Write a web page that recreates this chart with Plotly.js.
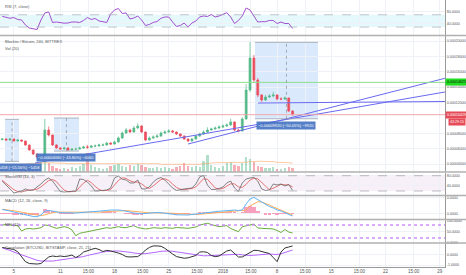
<!DOCTYPE html>
<html><head><meta charset="utf-8">
<script src="https://cdn.plot.ly/plotly-3.0.1.min.js"></script>
<style>html,body{margin:0;padding:0;background:#fff;}#chart{width:466px;height:275px;}</style>
</head><body><div id="chart"></div>
<script>
// ---- DATA (12-hour samples starting 2017-12-03 12:00; prices in satoshi = 1e-8 BTC) ----
const START = Date.UTC(2017, 11, 3, 12);
const STEP_HOURS = 12;

const open  = [7200,7273,7143,7273,7013,7143,7013,6494,5844,5325,4935,5065,8442,7792,6494,6104,5974,6104,5844,5974,5974,6104,6234,6200,6364,6364,6494,6494,6753,6623,6883,7403,8052,8442,8182,8701,8961,8182,7143,7403,7532,7662,8052,8182,8312,8182,7922,7662,7273,7013,7273,7662,7922,8182,8442,8571,8701,8831,8961,9091,9481,8442,8312,9870,13636,17792,14935,12987,12338,12727,12857,12987,12468,12468,12597,10909];
const close = [7273,7143,7273,7013,7143,7013,6494,5844,5325,4935,5065,8442,7792,6494,6104,5974,6104,5844,5974,5974,6104,6234,6200,6364,6364,6494,6494,6753,6623,6883,7403,8052,8442,8182,8701,8961,8182,7143,7403,7532,7662,8052,8182,8312,8182,7922,7662,7273,7013,7273,7662,7922,8182,8442,8571,8701,8831,8961,9091,9481,8442,8312,9870,13636,17792,14935,12987,12338,12727,12857,12987,12468,12468,12597,10909,10429];
const high  = [7400,7350,7400,7320,7250,7200,7050,6550,5900,5400,5300,9870,8900,7850,6600,6250,6250,6200,6100,6150,6300,6400,6500,6500,6550,6650,6700,6900,6850,7050,7600,8250,8700,8600,8950,9300,9050,8250,7600,7750,7900,8250,8400,8550,8450,8250,8000,7750,7350,7400,7800,8100,8400,8800,8750,8900,9050,9150,9300,9900,9550,8600,10100,14400,19870,18200,15200,13100,13000,13100,13400,13100,12700,12800,12650,11000];
const low   = [7100,7050,7080,6950,6950,6900,6400,5750,5200,4800,4820,5000,7600,6350,6000,5900,5900,5750,5800,5850,5900,6000,6000,6150,6250,6300,6350,6400,6500,6550,6800,7300,7950,8050,8100,8600,8050,7000,7050,7300,7450,7550,7950,8100,8050,7800,7550,7150,6900,6950,7200,7550,7850,8100,8350,8500,8600,8700,8850,9000,8300,8150,8250,9800,13400,14600,12700,12100,12200,12600,12700,12300,12300,12350,10750,10300];
const volume = [15,20,15,25,20,40,30,25,35,30,50,70,45,30,20,15,20,15,25,20,30,40,95,35,25,20,15,20,30,35,40,30,25,35,30,40,35,25,20,20,25,20,25,20,15,25,30,45,30,25,30,25,55,85,35,25,20,30,45,50,35,30,45,75,65,50,30,25,20,20,25,15,15,20,25,20];
const volumeMA = [35,35,35,35,35,35,37,40,40,40,42,45,45,45,45,42,42,40,40,40,40,40,42,42,42,42,42,40,40,40,40,42,42,42,42,42,42,42,40,40,40,37,37,37,35,35,37,37,37,37,37,37,40,42,45,45,45,45,45,45,45,45,45,47,50,52,52,52,52,50,50,47,47,45,45,42];
const rsi = [65,63,58.5,61,54.6,53,36.7,27,23.7,22,53,75.8,79,44.9,46.5,43.3,42.6,43.3,46.5,46.5,44.9,51.4,61,54.6,57.9,49.8,46.5,44.9,72.5,85.5,90.4,74.1,75.8,56.3,59.5,66,53,35.1,38.4,44.9,48.1,58.5,62.8,62.8,46.5,31.9,35.1,43.3,30.2,43.3,49.8,62.8,66,64.4,70.9,62.8,66,72.5,76.7,62.8,41.6,51.4,66,92,85.5,66,46.5,47.5,47.5,51.4,51.4,41.6,46.5,41.6,41.6,25.4];
const stochK = [59,43.5,28,12,16,20,28,22,24,35.7,47.4,63,71,59,39.6,18,16,17,18,20,67,65,55,39.6,20,20,22,24,31.8,71,78.8,65.9,63,51.4,51.4,63,28,28,35.7,55,67,73,63,47.4,31.8,22,26,28,29.8,31.8,47.4,75,80.8,43.5,26,26,29.8,35.7,51.4,59,31.8,18,51.4,67,71,73,59,28,22,24,47.4,43.5,47.4,39.6,45.5,22];
const stochD = [62,50,38,25,18,16,21,24,24,27,36,49,61,65,57,39,24,17,17,18,35,51,62,53,38,26,21,22,26,42,61,72,69,60,55,55,48,36,30,40,52,65,68,61,47,34,27,25,28,30,36,51,68,66,50,32,27,30,39,48,48,36,34,46,63,70,68,53,36,25,31,38,46,44,44,36];
// MACD values in satoshi
const macd = [237,206,144,81,19,-44,-106,-169,-200,-212,-106,144,175,144,81,50,37,19,19,19,37,50,81,81,94,112,144,175,206,219,206,175,144,81,19,-12,-25,-12,19,37,50,37,19,-25,-62,-94,-106,-106,-106,-75,-44,19,50,81,100,112,131,144,175,206,206,175,206,581,894,1000,862,706,550,425,331,206,144,50,-44,-169];
const signal = [250,235,205,160,115,70,20,-40,-90,-135,-150,-100,-20,40,70,70,60,50,40,30,30,35,45,55,65,75,90,110,130,150,170,175,170,150,120,90,60,40,30,28,30,32,30,20,5,-15,-35,-55,-70,-78,-75,-60,-40,-20,0,20,40,60,80,100,120,135,145,200,456,581,725,706,625,519,394,300,206,81,-12,-106];
const histogram = [-20,-30,-60,-80,-95,-110,-125,-130,-110,-80,40,240,190,160,20,-20,-30,-30,-20,-10,5,15,35,25,30,35,55,65,75,70,35,0,-25,-70,-100,-100,-85,-50,-10,10,20,5,-10,-55,-65,-80,-70,-50,-35,-5,30,80,90,100,100,90,90,85,95,105,85,40,60,380,440,420,140,0,-75,-95,-60,-95,-60,-30,-30,-60];
const mfi = [80,82.4,80,77.8,76.9,52.3,61.6,63.9,61.6,63.9,67.6,80,77.8,70.8,64.8,68.5,72.2,68.5,56.9,30.6,41.7,45.4,49.1,54.6,58.3,61.6,63.9,67.6,64.8,68.5,72.2,68.5,67.6,73.1,76.9,68.5,64.8,61.6,63.9,67.6,66.2,64.8,67.6,66.2,64.8,68.5,67.6,64.8,64.8,67.6,70.8,80,84.7,88,82.4,77.8,72.2,75.5,76.9,63.9,54.6,49.1,72.2,77.8,80,84.7,66.2,64.8,64.8,64.8,61.6,54.6,45.4,59.3,47.7,43.1];
const corr = [0.64,0.59,0.54,0.45,0.24,-0.22,-0.69,-0.86,-0.91,-0.91,-0.86,-0.53,-0.25,-0.16,-0.21,-0.16,-0.21,-0.16,-0.07,-0.30,-0.11,0.21,0.36,0.45,0.56,0.45,0.26,0.37,0.31,0.24,0.12,-0.02,-0.22,-0.25,-0.25,-0.21,0.03,0.40,0.64,0.78,0.78,0.75,0.56,0.26,0.03,-0.21,-0.30,-0.37,-0.33,-0.25,-0.11,0.21,0.24,0.17,-0.11,-0.22,-0.16,0.07,0.31,0.40,0.12,-0.25,-0.25,-0.02,0.17,0.37,0.36,0.28,0.19,0.07,-0.30,-0.69,0.21,0.59,0.68,0.78];
const corrMA = [0.59,0.50,0.36,0.21,0.07,-0.07,-0.21,-0.35,-0.47,-0.56,-0.63,-0.65,-0.65,-0.63,-0.58,-0.53,-0.49,-0.44,-0.39,-0.35,-0.30,-0.21,-0.11,-0.02,0.07,0.17,0.21,0.26,0.31,0.31,0.31,0.28,0.24,0.19,0.12,0.07,0.05,0.06,0.09,0.15,0.21,0.28,0.31,0.31,0.28,0.23,0.17,0.09,0.03,-0.04,-0.09,-0.13,-0.14,-0.13,-0.11,-0.09,-0.08,-0.07,-0.04,0,0.03,0,-0.05,-0.09,-0.11,-0.09,-0.05,0,0.03,0.03,0,-0.02,0.05,0.17,0.29,0.40];

const priceTicks = [4000,6000,8000,12000,14000,16000,18000,20000];
const xTickVals = ['2017-12-05','2017-12-11','2017-12-14 15:00','2017-12-18','2017-12-21 15:00','2017-12-25','2017-12-28 15:00','2018-01-01','2018-01-04 15:00','2018-01-08','2018-01-11 15:00','2018-01-15','2018-01-18 15:00','2018-01-22','2018-01-25 15:00','2018-01-29'];
const xTickText = ['5','11','15:00','18','15:00','25','15:00','2018','15:00','8','15:00','15','15:00','22','15:00','29'];

// drawings (time, price in satoshi)
const trendLines = [
  {t:['2017-12-07 17:35','2018-01-29 16:00'], p:[4156,13377]},
  {t:['2017-12-27 12:00','2018-01-29 16:00'], p:[6623,15156]},
  {t:['2018-01-05 12:45','2018-01-29 16:00'], p:[11948,12143]}
];
const resistanceLevel = 14625;
const lastPrice = 10429;
const countdown = '43:29:15';
const rangeBoxes = [
  {t0:'2017-12-03 20:35', t1:'2017-12-05 16:00', mid:'2017-12-04 18:17', hi:9824, lo:4366, label:'\u22120.00005458 (\u221255.56%) \u22125458'},
  {t0:'2017-12-10 04:28', t1:'2017-12-13 09:58', mid:'2017-12-11 19:00', hi:10000, lo:5700, label:'\u22120.00004060 (\u221243.80%) \u22124060'},
  {t0:'2018-01-05 03:20', t1:'2018-01-13 06:40', mid:'2018-01-09 05:00', hi:19820, lo:9900, label:'\u22120.00009920 (\u221250.05%) \u22129920'}
];

// ---- BUILD ----
function fmt(ms){const d=new Date(ms);const p=n=>String(n).padStart(2,'0');
  return d.getUTCFullYear()+'-'+p(d.getUTCMonth()+1)+'-'+p(d.getUTCDate())+' '+p(d.getUTCHours())+':'+p(d.getUTCMinutes());}
const times = close.map((_,i)=>fmt(START + i*STEP_HOURS*3600e3));
const UP='#53b987', DOWN='#eb4d5c';
const satLabel = v => (v*1e-8).toFixed(8);

const traces = [];
traces.push({type:'scatter',mode:'lines',x:times,y:rsi,xaxis:'x',yaxis:'y',line:{color:'#a24fd1',width:1},hoverinfo:'skip'});
traces.push({type:'bar',x:times,y:volume,xaxis:'x',yaxis:'y3',
  marker:{color:close.map((c,i)=>c>=open[i]?'rgba(83,185,135,0.45)':'rgba(235,77,92,0.45)')},width:12*3600e3*0.6,hoverinfo:'skip'});
traces.push({type:'scatter',mode:'lines',x:times,y:volumeMA,xaxis:'x',yaxis:'y3',line:{color:'rgba(255,160,90,0.7)',width:0.8},hoverinfo:'skip'});
traces.push({type:'candlestick',x:times,open:open,high:high,low:low,close:close,xaxis:'x',yaxis:'y2',
  increasing:{line:{color:UP,width:0.7},fillcolor:UP},decreasing:{line:{color:DOWN,width:0.7},fillcolor:DOWN},whiskerwidth:0,hoverinfo:'skip'});
trendLines.forEach(l=>traces.push({type:'scatter',mode:'lines',x:l.t,y:l.p,xaxis:'x',yaxis:'y2',line:{color:'rgb(105,105,240)',width:1},hoverinfo:'skip'}));
traces.push({type:'scatter',mode:'lines',x:times,y:stochD,xaxis:'x',yaxis:'y4',line:{color:'#e57373',width:1},hoverinfo:'skip'});
traces.push({type:'scatter',mode:'lines',x:times,y:stochK,xaxis:'x',yaxis:'y4',line:{color:'#666',width:0.8},hoverinfo:'skip'});
traces.push({type:'bar',x:times,y:histogram,xaxis:'x',yaxis:'y5',marker:{color:'rgba(244,130,170,0.75)'},width:12*3600e3*0.9,hoverinfo:'skip'});
traces.push({type:'scatter',mode:'lines',x:times,y:signal,xaxis:'x',yaxis:'y5',line:{color:'#ffad5c',width:1},hoverinfo:'skip'});
traces.push({type:'scatter',mode:'lines',x:times,y:macd,xaxis:'x',yaxis:'y5',line:{color:'#5fb3f5',width:1},hoverinfo:'skip'});
traces.push({type:'scatter',mode:'lines',x:times,y:mfi,xaxis:'x',yaxis:'y6',line:{color:'#6aab3c',width:1},hoverinfo:'skip'});
traces.push({type:'scatter',mode:'lines',x:times,y:corrMA,xaxis:'x',yaxis:'y7',line:{color:'#b466ff',width:1},hoverinfo:'skip'});
traces.push({type:'scatter',mode:'lines',x:times,y:corr,xaxis:'x',yaxis:'y7',line:{color:'#333',width:1},hoverinfo:'skip'});

const H = 267; const py = px => (H - px)/H; const RX = 466/445;
const grid = '#eef1f6', axisLine = '#9a9a9a', tickF = {size:3.6, color:'#555'};
const yCommon = {side:'right',anchor:'x',showgrid:true,gridcolor:grid,zeroline:false,showline:true,linecolor:axisLine,linewidth:1,tickfont:tickF,ticks:'',fixedrange:true};

const shapes = [];
shapes.push({type:'rect',xref:'paper',x0:0,x1:1,yref:'y',y0:30,y1:70,fillcolor:'rgba(0,188,212,0.10)',line:{width:0},layer:'below'});
[30,70].forEach(v=>shapes.push({type:'line',xref:'paper',x0:0,x1:1,yref:'y',y0:v,y1:v,line:{color:'#a8b0b8',width:0.7,dash:'dash'}}));
shapes.push({type:'rect',xref:'paper',x0:0,x1:1,yref:'y4',y0:20,y1:80,fillcolor:'rgba(156,39,176,0.07)',line:{width:0},layer:'below'});
[20,80].forEach(v=>shapes.push({type:'line',xref:'paper',x0:0,x1:1,yref:'y4',y0:v,y1:v,line:{color:'#a0a0a8',width:0.7,dash:'dash'}}));
[20,80].forEach(v=>shapes.push({type:'line',xref:'paper',x0:0,x1:1,yref:'y6',y0:v,y1:v,line:{color:'rgba(200,130,255,0.9)',width:1.5,dash:'dot'}}));
shapes.push({type:'line',xref:'paper',x0:0,x1:1,yref:'y2',y0:resistanceLevel,y1:resistanceLevel,line:{color:'#8ee08e',width:1}});
shapes.push({type:'line',xref:'paper',x0:0,x1:1,yref:'y2',y0:lastPrice,y1:lastPrice,line:{color:'#f2a8aa',width:1}});
rangeBoxes.forEach(b=>{
  shapes.push({type:'rect',xref:'x',yref:'y2',x0:b.t0,x1:b.t1,y0:b.lo,y1:b.hi,fillcolor:'rgba(187,216,250,0.55)',line:{width:0},layer:'below'});
  shapes.push({type:'line',xref:'x',yref:'y2',x0:b.t0,x1:b.t1,y0:b.hi,y1:b.hi,line:{color:'#9aa4ae',width:0.8}});
  shapes.push({type:'line',xref:'x',yref:'y2',x0:b.t0,x1:b.t1,y0:b.lo,y1:b.lo,line:{color:'#9aa4ae',width:0.8}});
  shapes.push({type:'line',xref:'x',yref:'y2',x0:b.mid,x1:b.mid,y0:b.lo,y1:b.hi,line:{color:'#8a8f98',width:0.7,dash:'dot'}});
});
[35.5,172,195.5,219.5,243].forEach(p=>shapes.push({type:'line',xref:'paper',x0:0,x1:RX,yref:'paper',y0:py(p),y1:py(p),line:{color:'#b0b0b0',width:1.5}}));

const annotations = [];
const titleA = (txt,ypx)=>annotations.push({xref:'paper',yref:'paper',x:0.006,y:py(ypx),xanchor:'left',yanchor:'middle',text:txt,showarrow:false,font:{size:4,color:'#555'}});
titleA('RSI (7, close)',6);
titleA('Blocktix / Bitcoin, 240, BITTREX',41);
titleA('Vol (20)',48);
titleA('StochRSI (14, 3)',176.5);
titleA('MACD (12, 26, close, 9)',200.5);
titleA('MFI (11)',224.5);
titleA('Correlation (BTCUSD, BITSTAMP, close, 21, 21)',247.5);
rangeBoxes.forEach(b=>annotations.push({xref:'x',yref:'y2',x:b.mid,y:b.lo,yanchor:'top',xanchor:'center',yshift:-2,text:b.label,showarrow:false,
  bgcolor:'rgba(70,116,194,0.92)',borderpad:1,font:{size:4,color:'#fff'}}));
annotations.push({xref:'paper',yref:'y2',x:1,y:resistanceLevel,xanchor:'left',yanchor:'middle',text:satLabel(resistanceLevel),showarrow:false,bgcolor:'#1fdd1f',borderpad:1,font:{size:3.6,color:'#111'}});
annotations.push({xref:'paper',yref:'y2',x:1,y:lastPrice,xanchor:'left',yanchor:'middle',text:satLabel(lastPrice),showarrow:false,bgcolor:'#e64b58',borderpad:1,font:{size:3.6,color:'#fff'}});
annotations.push({xref:'paper',yref:'y2',x:RX,y:lastPrice,xanchor:'right',yanchor:'middle',yshift:-7.5,text:countdown,showarrow:false,bgcolor:'#e64b58',borderpad:1,font:{size:3.6,color:'#fff'}});

const layout = {
  width:466,height:275,margin:{l:0,r:21,t:0,b:8,pad:0},paper_bgcolor:'#fff',plot_bgcolor:'#fff',showlegend:false,
  font:{family:'Liberation Sans, Arial, sans-serif',size:4,color:'#555'},
  bargap:0, hovermode:false,
  xaxis:{type:'date',range:['2017-12-03 05:05','2018-01-29 16:19'],anchor:'y7',tickvals:xTickVals,ticktext:xTickText,
    tickfont:{size:4.5,color:'#555'},showgrid:true,gridcolor:grid,showline:true,linecolor:axisLine,ticks:'',zeroline:false,
    rangeslider:{visible:false},fixedrange:true},
  yaxis: Object.assign({},yCommon,{domain:[py(35),1],range:[4.2,118],tickvals:[40,80],ticktext:['40.0000','80.0000']}),
  yaxis2:Object.assign({},yCommon,{domain:[py(171.7),py(36)],range:[3026,20649],tickvals:priceTicks,ticktext:priceTicks.map(satLabel)}),
  yaxis3:{overlaying:'y2',anchor:'x',range:[0,678],visible:false,fixedrange:true},
  yaxis4:Object.assign({},yCommon,{domain:[py(195),py(172.5)],range:[4.3,92.5],tickvals:[40,80],ticktext:['40.0000','80.0000']}),
  yaxis5:Object.assign({},yCommon,{domain:[py(219),py(196)],range:[-356,1081],tickvals:[0,1000],ticktext:['0.0000','0.0000']}),
  yaxis6:Object.assign({},yCommon,{domain:[py(242.7),py(220)],range:[-1.85,103.2],tickvals:[0,50,100],ticktext:['0.0000','50.0000','100.0000']}),
  yaxis7:Object.assign({},yCommon,{domain:[0,py(243.3)],range:[-1.187,1.028],tickvals:[-1,0],ticktext:['-1.0000','0.0000']}),
  shapes:shapes, annotations:annotations
};
Plotly.newPlot('chart',traces,layout,{staticPlot:true,displayModeBar:false});
</script>
</body></html>
